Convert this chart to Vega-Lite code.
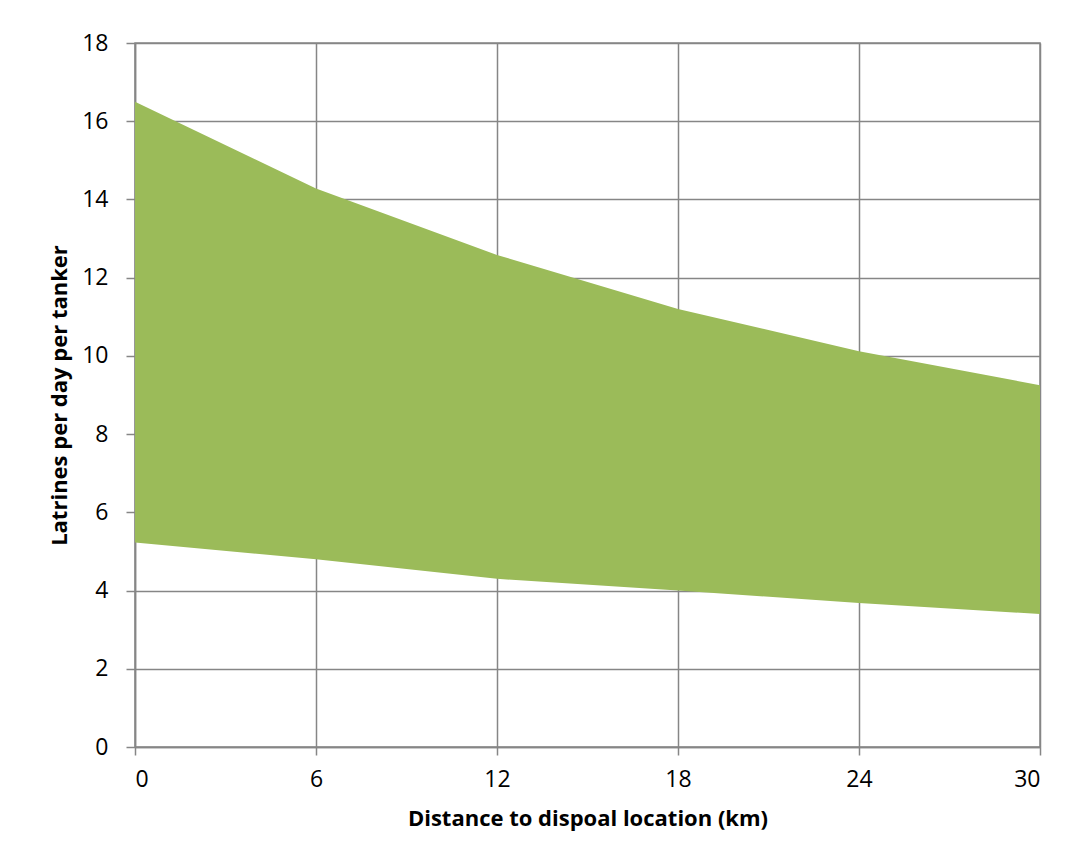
{
  "$schema": "https://vega.github.io/schema/vega-lite/v6.json",
  "autosize": {"type": "none"},
  "padding": {"left": 135, "top": 43, "right": 29, "bottom": 116},
  "width": 905,
  "height": 704,
  "background": "white",
  "config": {
    "font": "Open Sans",
    "view": {"stroke": "#868686", "strokeWidth": 1.5}
  },
  "data": {
    "values": [
      {"distance": 0, "low": 5.23, "high": 16.5},
      {"distance": 6, "low": 4.8, "high": 14.28},
      {"distance": 12, "low": 4.3, "high": 12.58},
      {"distance": 18, "low": 4.0, "high": 11.2},
      {"distance": 24, "low": 3.68, "high": 10.12},
      {"distance": 30, "low": 3.4, "high": 9.25}
    ]
  },
  "mark": {"type": "area", "color": "#9BBB59", "opacity": 1},
  "encoding": {
    "x": {
      "field": "distance",
      "type": "quantitative",
      "scale": {"domain": [0, 30], "nice": false, "zero": false},
      "axis": {
        "values": [0, 6, 12, 18, 24, 30],
        "title": "Distance to dispoal location (km)",
        "titleFont": "Open Sans",
        "titleFontSize": 22,
        "titleFontWeight": "bold",
        "titleColor": "#000000",
        "titlePadding": 17,
        "labelFontSize": 23,
        "labelColor": "#000000",
        "labelPadding": 13,
        "tickSize": 8,
        "tickColor": "#868686",
        "tickWidth": 1.5,
        "domainColor": "#868686",
        "domainWidth": 1.5,
        "grid": true,
        "gridColor": "#868686",
        "gridWidth": 1.5,
        "gridOpacity": 1
      }
    },
    "y": {
      "field": "high",
      "type": "quantitative",
      "scale": {"domain": [0, 18], "nice": false},
      "axis": {
        "values": [0, 2, 4, 6, 8, 10, 12, 14, 16, 18],
        "title": "Latrines per day per tanker",
        "titleFont": "Open Sans",
        "titleFontSize": 22,
        "titleFontWeight": "bold",
        "titleColor": "#000000",
        "titlePadding": 10,
        "labelFontSize": 23,
        "labelColor": "#000000",
        "labelPadding": 18,
        "tickSize": 9,
        "tickColor": "#868686",
        "tickWidth": 1.5,
        "domainColor": "#868686",
        "domainWidth": 1.5,
        "grid": true,
        "gridColor": "#868686",
        "gridWidth": 1.5,
        "gridOpacity": 1
      }
    },
    "y2": {"field": "low"}
  }
}
